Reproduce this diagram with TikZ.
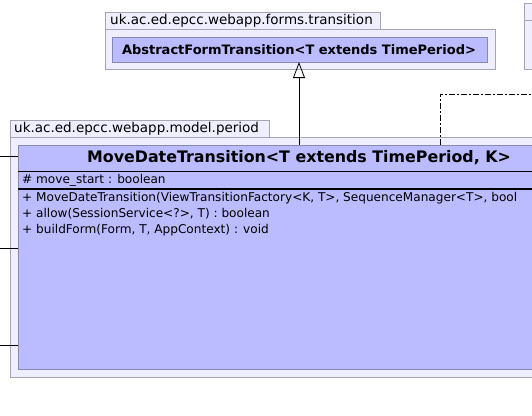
\documentclass[tikz,border=0pt]{standalone}
\usepackage{fontspec}
\setmainfont{DejaVu Sans}
\usetikzlibrary{arrows.meta}
\definecolor{pkgfill}{RGB}{238,238,255}
\definecolor{pkgdraw}{RGB}{165,165,180}
\definecolor{clsfill}{RGB}{187,187,255}
\definecolor{clsdraw}{RGB}{136,136,180}
\tikzset{
  pkg/.style={draw=pkgdraw,fill=pkgfill,line width=1pt},
  cls/.style={draw=clsdraw,fill=clsfill,line width=1pt},
  lbl/.style={inner sep=0pt,anchor=west,font=\fontsize{13.5}{15}\selectfont},
  member/.style={inner sep=0pt,anchor=west,font=\fontsize{12.1}{14}\selectfont},
  conn/.style={draw=black,line width=0.8pt},
}
\begin{document}
\begin{tikzpicture}[x=1pt,y=-1pt]
\useasboundingbox (0,0) rectangle (532,415);
\fill[white] (0,0) rectangle (532,415);
\clip (0,0) rectangle (532,415);
% right partial package
\draw[pkg] (524,3) rectangle (560,20);
\draw[pkg] (524,20) rectangle (560,69);
% top package
\draw[pkg] (105,12) rectangle (380,29);
\draw[pkg] (105,29) rectangle (495,69);
\node[lbl] (toplbl) at (110,20.5) {uk.ac.ed.epcc.webapp.forms.transition};
\draw[cls] (112,37) rectangle (487,62);
\node[inner sep=0pt,font=\fontsize{13}{15}\selectfont\bfseries] (afc) at (299,50) {AbstractFormTransition<T extends TimePeriod>};
\coordinate (afcb) at (299,62);
% lower package
\draw[pkg] (10,120) rectangle (269,137);
\draw[pkg] (10,137) rectangle (560,377);
\node[lbl] (botlbl) at (14,129) {uk.ac.ed.epcc.webapp.model.period};
\draw[cls] (18,145) rectangle (560,369);
\coordinate (mdtt) at (299,145);
\node[inner sep=0pt,font=\fontsize{15.85}{18}\selectfont\bfseries] (mdt) at (299,158) {MoveDateTransition<T extends TimePeriod, K>};
\draw[black,line width=1pt] (18,171) -- (560,171);
\draw[black,line width=2pt] (18,189) -- (560,189);
\node[member] (a1) at (22,180) {\# move\_start : boolean};
\node[member] (m1) at (22,198.5) {+ MoveDateTransition(ViewTransitionFactory<K, T>, SequenceManager<T>, bool};
\node[member] (m2) at (22,214) {+ allow(SessionService<?>, T) : boolean};
\node[member] (m3) at (22,230) {+ buildForm(Form, T, AppContext) : void};
% inheritance
\draw[conn,-{Triangle[open,width=12pt,length=16pt,line width=0.8pt]}] (mdtt) -- (afcb);
% dashed dependency
\coordinate (d0) at (440,145);
\coordinate (d1) at (440,94);
\coordinate (d2) at (540,94);
\draw[conn,dash pattern=on 6pt off 2pt on 2pt off 2pt] (d0) -- (d1) -- (d2);
% left connectors
\coordinate (l1) at (0,156);
\coordinate (l2) at (0,248);
\coordinate (l3) at (0,345);
\draw[conn] (l1) -- (18,156);
\draw[conn] (l2) -- (18,248);
\draw[conn] (l3) -- (18,345);
\end{tikzpicture}
\end{document}
